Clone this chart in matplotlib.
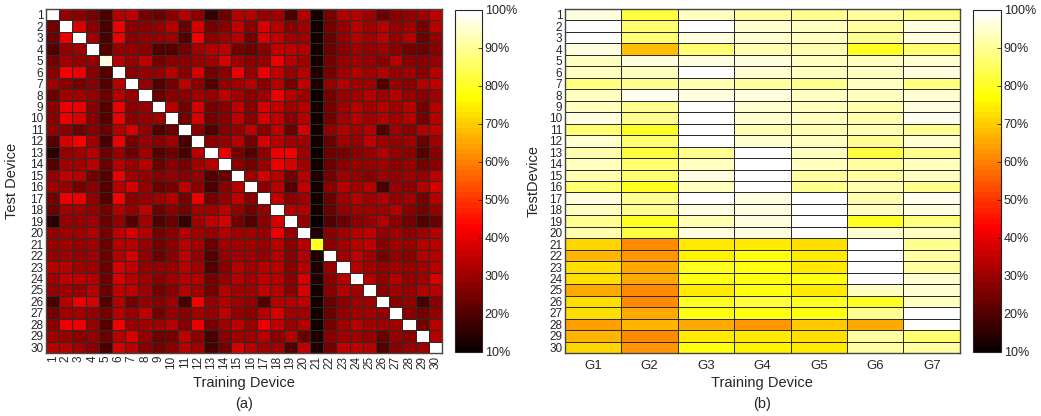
import numpy as np
import matplotlib
matplotlib.use("Agg")
import matplotlib.pyplot as plt
from matplotlib.colors import ListedColormap

plt.rcParams["font.family"] = ["Liberation Sans", "DejaVu Sans"]

# (a) accuracy (%) of each test device (rows) vs training device (cols)
devices = list(range(1, 31))
acc_devices = [
    [100, 29, 27, 25, 19, 33, 35, 25, 24, 27, 33, 27, 16, 23, 33, 33, 29, 31, 19, 33, 12, 25, 33, 33, 31, 23, 27, 29, 31, 35],
    [25, 100, 38, 27, 19, 40, 27, 27, 29, 33, 23, 38, 25, 27, 35, 27, 38, 33, 27, 31, 12, 25, 29, 33, 31, 33, 29, 31, 25, 33],
    [23, 40, 100, 31, 19, 40, 27, 29, 29, 31, 21, 42, 27, 31, 33, 25, 38, 35, 31, 31, 12, 23, 29, 33, 31, 35, 29, 33, 23, 29],
    [21, 29, 31, 100, 21, 29, 29, 27, 21, 21, 25, 31, 33, 35, 25, 23, 27, 35, 35, 33, 12, 23, 27, 31, 29, 31, 27, 25, 23, 27],
    [25, 31, 29, 29, 97, 33, 29, 35, 25, 27, 27, 29, 31, 38, 31, 27, 29, 40, 33, 31, 12, 25, 29, 31, 29, 27, 33, 27, 27, 29],
    [27, 42, 40, 27, 21, 100, 27, 29, 29, 33, 27, 38, 25, 27, 40, 29, 40, 35, 29, 33, 13, 25, 31, 33, 31, 33, 29, 31, 27, 33],
    [31, 27, 25, 27, 21, 33, 100, 29, 21, 25, 35, 27, 21, 29, 31, 33, 27, 33, 25, 35, 13, 29, 33, 31, 31, 21, 29, 27, 33, 35],
    [23, 31, 31, 29, 23, 33, 29, 100, 23, 27, 27, 31, 29, 35, 31, 27, 31, 40, 33, 31, 11, 25, 29, 31, 33, 31, 33, 29, 27, 31],
    [27, 40, 40, 27, 21, 40, 27, 29, 100, 33, 25, 38, 25, 27, 35, 27, 38, 35, 31, 33, 12, 25, 31, 33, 31, 33, 31, 33, 25, 33],
    [27, 40, 38, 27, 21, 40, 27, 29, 31, 100, 25, 38, 25, 27, 35, 27, 38, 35, 27, 33, 12, 25, 31, 33, 31, 33, 31, 33, 25, 33],
    [29, 27, 23, 27, 23, 33, 38, 29, 21, 23, 100, 27, 21, 27, 29, 35, 27, 35, 23, 38, 12, 29, 33, 31, 33, 21, 31, 27, 33, 35],
    [21, 38, 42, 31, 19, 40, 25, 29, 27, 31, 19, 100, 27, 29, 33, 25, 38, 33, 31, 31, 12, 23, 31, 29, 35, 31, 29, 31, 23, 31],
    [15, 29, 31, 33, 23, 29, 23, 31, 21, 23, 19, 33, 100, 40, 25, 21, 27, 40, 42, 31, 11, 23, 25, 27, 29, 33, 29, 27, 21, 27],
    [21, 31, 31, 33, 23, 33, 29, 33, 23, 27, 25, 31, 33, 100, 27, 25, 29, 40, 38, 31, 12, 23, 27, 29, 29, 31, 27, 29, 25, 27],
    [29, 35, 33, 25, 21, 40, 31, 29, 27, 29, 27, 29, 21, 23, 100, 31, 38, 33, 25, 33, 13, 25, 31, 29, 27, 31, 29, 31, 29, 35],
    [31, 29, 25, 27, 21, 33, 38, 29, 23, 25, 35, 27, 19, 27, 33, 100, 27, 33, 21, 35, 12, 27, 33, 31, 33, 19, 29, 27, 33, 38],
    [25, 40, 40, 29, 21, 42, 27, 29, 31, 33, 25, 40, 25, 29, 35, 27, 100, 35, 27, 31, 12, 23, 31, 33, 31, 33, 29, 31, 25, 33],
    [23, 31, 31, 29, 25, 33, 29, 35, 23, 27, 25, 31, 31, 35, 29, 25, 29, 100, 33, 33, 12, 23, 29, 31, 31, 31, 33, 27, 25, 29],
    [15, 29, 29, 31, 23, 29, 21, 31, 21, 23, 17, 31, 35, 38, 25, 21, 27, 38, 100, 29, 11, 21, 23, 27, 29, 33, 27, 25, 21, 23],
    [29, 31, 31, 33, 25, 35, 38, 33, 25, 27, 33, 31, 29, 33, 31, 31, 29, 40, 29, 100, 13, 27, 31, 33, 35, 29, 31, 27, 31, 33],
    [29, 31, 29, 31, 23, 33, 33, 29, 25, 27, 33, 31, 23, 31, 31, 31, 29, 33, 27, 33, 79, 27, 31, 33, 35, 27, 31, 29, 33, 33],
    [29, 31, 29, 31, 23, 33, 38, 29, 23, 27, 35, 29, 21, 29, 31, 31, 29, 33, 27, 33, 13, 100, 31, 35, 31, 25, 29, 27, 33, 33],
    [33, 33, 31, 31, 23, 38, 35, 29, 29, 29, 33, 31, 21, 27, 33, 31, 33, 33, 27, 33, 13, 29, 100, 33, 31, 29, 31, 29, 31, 33],
    [31, 35, 35, 33, 23, 38, 33, 31, 27, 31, 33, 33, 25, 29, 33, 31, 35, 33, 27, 38, 13, 27, 33, 100, 33, 29, 33, 29, 31, 38],
    [29, 31, 29, 33, 23, 35, 35, 31, 25, 27, 33, 31, 25, 33, 31, 31, 35, 33, 27, 38, 12, 27, 33, 31, 100, 27, 31, 29, 33, 33],
    [19, 33, 40, 38, 21, 33, 25, 29, 27, 31, 19, 42, 29, 33, 31, 29, 21, 33, 33, 35, 12, 23, 27, 31, 31, 100, 27, 29, 19, 27],
    [25, 31, 31, 29, 25, 33, 29, 35, 25, 29, 27, 31, 29, 35, 29, 27, 33, 38, 31, 31, 12, 23, 29, 31, 31, 29, 100, 27, 25, 29],
    [27, 40, 40, 29, 21, 42, 29, 31, 31, 33, 27, 40, 25, 31, 35, 29, 40, 35, 29, 33, 12, 25, 31, 33, 31, 31, 31, 100, 25, 33],
    [31, 29, 27, 29, 23, 33, 38, 29, 23, 25, 35, 27, 19, 27, 31, 31, 33, 27, 33, 23, 13, 27, 31, 31, 29, 23, 29, 27, 100, 33],
    [33, 33, 31, 27, 19, 38, 33, 27, 25, 27, 33, 31, 19, 25, 38, 33, 31, 31, 21, 35, 13, 25, 35, 35, 33, 21, 27, 29, 31, 100],
]

# (b) accuracy (%) of each test device vs training group
groups = ["G1", "G2", "G3", "G4", "G5", "G6", "G7"]
acc_groups = [
    [97, 82, 93, 91, 90, 91, 88],
    [99, 87, 99, 95, 93, 91, 97],
    [100, 87, 96, 95, 94, 90, 96],
    [97, 68, 87, 92, 92, 80, 87],
    [93, 96, 96, 96, 93, 93, 95],
    [93, 94, 99, 95, 93, 93, 97],
    [88, 90, 92, 91, 89, 94, 88],
    [93, 98, 97, 97, 94, 94, 95],
    [94, 89, 100, 95, 93, 92, 97],
    [96, 89, 100, 95, 93, 92, 98],
    [87, 79, 99, 92, 92, 92, 90],
    [95, 86, 100, 95, 93, 89, 95],
    [92, 83, 90, 100, 94, 82, 89],
    [93, 87, 94, 100, 94, 91, 94],
    [92, 87, 96, 100, 91, 91, 93],
    [87, 79, 94, 99, 89, 92, 90],
    [97, 89, 99, 96, 99, 92, 98],
    [93, 89, 97, 96, 100, 93, 96],
    [90, 79, 92, 96, 100, 79, 88],
    [92, 83, 96, 96, 99, 95, 93],
    [71, 62, 74, 74, 73, 99, 90],
    [67, 63, 76, 77.5, 74, 100, 91],
    [72, 65, 79, 77.5, 73.5, 100, 91],
    [72, 66, 78.5, 78.5, 78, 100, 95],
    [66, 62, 73.5, 77.5, 73.5, 93, 95],
    [72, 62, 79, 82, 79.5, 79.5, 94],
    [72, 66, 77.5, 78.5, 77.5, 90, 99],
    [64, 67, 66, 63, 70, 66, 100],
    [67, 62, 73.5, 73.5, 72, 91, 87],
    [71, 63, 77.5, 75, 73.5, 91, 91],
]

cbar_ticks = list(range(10, 101, 10))

# MATLAB-style hot(64)
m = 64
n = int(round(3 / 8 * m))
r = np.concatenate([np.arange(1, n + 1) / n, np.ones(m - n)])
g = np.concatenate([np.zeros(n), np.arange(1, n + 1) / n, np.ones(m - 2 * n)])
b = np.concatenate([np.zeros(2 * n), np.arange(1, m - 2 * n + 1) / (m - 2 * n)])
cmap = ListedColormap(np.column_stack([r, g, b]))
edge = "#2b2b2b"

fig = plt.figure(figsize=(10.41, 4.16), dpi=100)


def draw_heat(ax, cax, data, xlabels, rotate):
    data = np.array(data, dtype=float)
    nr, nc = data.shape
    mesh = ax.pcolormesh(np.arange(nc + 1) + 0.5, np.arange(nr + 1) + 0.5, data,
                         cmap=cmap, vmin=10, vmax=100,
                         edgecolors=edge, linewidth=0.5)
    ax.set_xlim(0.5, nc + 0.5)
    ax.set_ylim(nr + 0.5, 0.5)
    ax.set_xticks(np.arange(1, nc + 1))
    ax.set_xticklabels(xlabels, rotation=90 if rotate else 0, fontsize=8.5 if rotate else 9.5)
    ax.set_yticks(np.arange(1, nr + 1))
    ax.set_yticklabels(devices, fontsize=8.5)
    ax.tick_params(length=0, pad=2, colors="#262626")
    if not rotate:
        ax.tick_params(axis="x", pad=5)
    for s in ax.spines.values():
        s.set_color("#444444")
        s.set_linewidth(1.0)

    cb = fig.colorbar(mesh, cax=cax, ticks=cbar_ticks)
    cb.ax.set_yticklabels([f"{t}%" for t in cbar_ticks], fontsize=9)
    cb.ax.tick_params(direction="in", length=3, width=0.6, pad=2, colors="#262626")
    cb.outline.set_linewidth(0.8)
    cb.outline.set_edgecolor("#262626")
    return mesh


ax1 = fig.add_axes([0.0442, 0.1514, 0.3804, 0.8269])
cax1 = fig.add_axes([0.437, 0.154, 0.026, 0.822])
draw_heat(ax1, cax1, acc_devices, devices, True)

ax2 = fig.add_axes([0.5427, 0.1514, 0.3794, 0.8269])
cax2 = fig.add_axes([0.9347, 0.154, 0.0269, 0.822])
draw_heat(ax2, cax2, acc_groups, groups, False)

tc = "#262626"
fig.text(0.0442 + 0.3804 / 2, 0.079, "Training Device", ha="center", va="center", fontsize=10.5, color=tc)
fig.text(0.0442 + 0.3804 / 2, 0.030, "(a)", ha="center", va="center", fontsize=10.5, color=tc)
fig.text(0.5427 + 0.3794 / 2, 0.079, "Training Device", ha="center", va="center", fontsize=10.5, color=tc)
fig.text(0.5427 + 0.3794 / 2, 0.030, "(b)", ha="center", va="center", fontsize=10.5, color=tc)
fig.text(0.0115, 0.565, "Test Device", rotation=90, ha="center", va="center", fontsize=10.5, color=tc)
fig.text(0.5125, 0.565, "TestDevice", rotation=90, ha="center", va="center", fontsize=10.5, color=tc)

fig.savefig("out.png", dpi=100)
